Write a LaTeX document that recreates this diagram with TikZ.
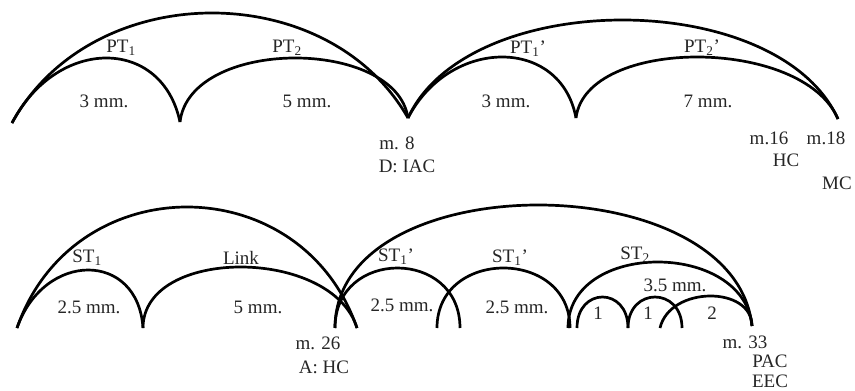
\documentclass[tikz,border=0pt]{standalone}
\usepackage{fontspec}
\setmainfont{Liberation Serif}
\tikzset{
  arcline/.style={draw=black,line width=2.7pt,line cap=butt},
  lbl/.style={inner sep=0pt,font=\fontsize{19}{22}\selectfont,text=black!85}
}
% arc from (x1,y1) to (x2,y2) (image pixels, y downwards) with top at y = peak,
% horizontal offsets d1, d2 of the control points
\newcommand\barc[7]{%
  \pgfmathsetmacro\cyv{-(#5-(#2+#4)/8)*4/3}%
  \draw[arcline] (#1,-#2) .. controls ({#1+#6},\cyv) and ({#3-#7},\cyv) .. (#3,-#4);
}
\begin{document}
\begin{tikzpicture}[x=1pt,y=1pt]
\useasboundingbox[fill=white] (0,0) rectangle (855,-391);
% ---- top row ----
\barc{12}{123}{408}{118}{13}{80}{80}
\barc{12}{123}{180}{122}{58}{45}{18}
\barc{180}{122}{408}{118}{58}{10}{12}
\barc{408}{118}{838}{119}{20}{60}{60}
\barc{408}{118}{576}{118}{57}{42}{15}
\barc{576}{118}{838}{119}{57}{10}{35}
% ---- bottom row ----
\barc{17}{328}{357}{328}{207}{56}{56}
\barc{17}{328}{143}{328}{270}{27}{5}
\barc{143}{328}{357}{328}{267}{0}{25}
\barc{335}{328}{752}{326}{205}{0}{17}
\barc{335}{328}{460}{328}{268}{0}{0}
\barc{437}{328}{570}{328}{268}{0}{0}
\barc{568}{328}{752}{326}{262}{0}{8}
\barc{577}{328}{628}{328}{297}{0}{0}
\barc{628}{328}{682}{328}{297}{0}{0}
\barc{660}{328}{752}{326}{296}{10}{0}
% ---- labels ----
\node[lbl] (t1) at (121,-48) {PT\textsubscript{1}};
\node[lbl] (t2) at (287,-48) {PT\textsubscript{2}};
\node[lbl] (t3) at (104,-101) {3 mm.};
\node[lbl] (t4) at (307,-101) {5 mm.};
\node[lbl] (t5) at (397,-143) {m. 8};
\node[lbl] (t6) at (407,-166) {D: IAC};
\node[lbl] (t7) at (528,-49) {PT\textsubscript{1}'};
\node[lbl] (t8) at (702,-48) {PT\textsubscript{2}'};
\node[lbl] (t9) at (506,-101) {3 mm.};
\node[lbl] (t10) at (708,-101) {7 mm.};
\node[lbl] (t11) at (769,-138) {m.16};
\node[lbl] (t12) at (826,-138) {m.18};
\node[lbl] (t13) at (786,-160) {HC};
\node[lbl] (t14) at (837,-183) {MC};
\node[lbl] (b1) at (87,-258) {ST\textsubscript{1}};
\node[lbl] (b2) at (241,-258) {Link};
\node[lbl] (b3) at (89,-307) {2.5 mm.};
\node[lbl] (b4) at (258,-307) {5 mm.};
\node[lbl] (b5) at (318,-343) {m. 26};
\node[lbl] (b6) at (324,-367) {A: HC};
\node[lbl] (b7) at (396,-257) {ST\textsubscript{1}'};
\node[lbl] (b8) at (510,-258) {ST\textsubscript{1}'};
\node[lbl] (b9) at (635,-255) {ST\textsubscript{2}};
\node[lbl] (b10) at (402,-305) {2.5 mm.};
\node[lbl] (b11) at (517,-307) {2.5 mm.};
\node[lbl] (b12) at (675,-285) {3.5 mm.};
\node[lbl] (b13) at (598,-313) {1};
\node[lbl] (b14) at (648,-313) {1};
\node[lbl] (b15) at (712,-313) {2};
\node[lbl] (b16) at (745,-342) {m. 33};
\node[lbl] (b17) at (770,-361) {PAC};
\node[lbl] (b18) at (770,-381) {EEC};
\end{tikzpicture}
\end{document}
